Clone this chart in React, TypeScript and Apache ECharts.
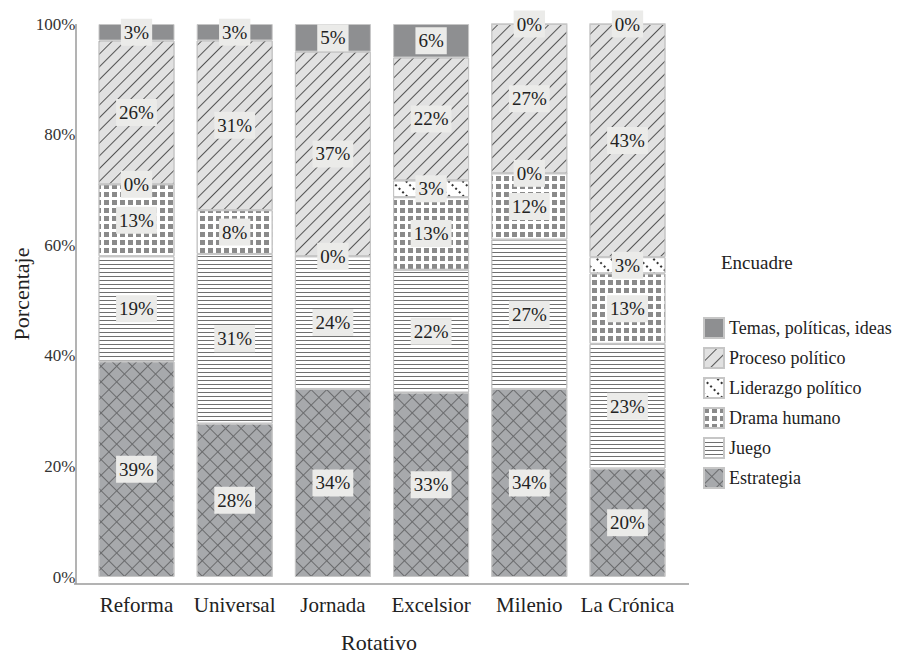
import React, { useEffect, useRef } from "react";
import * as echarts from "echarts";

const categories = ["Reforma", "Universal", "Jornada", "Excelsior", "Milenio", "La Crónica"];
const estrategia = [39, 28, 34, 33, 34, 20];
const juego = [19, 31, 24, 22, 27, 23];
const dramaHumano = [13, 8, 0, 13, 12, 13];
const liderazgo: (number | null)[] = [0, null, null, 3, 0, 3];
const procesoPolitico = [26, 31, 37, 22, 27, 43];
const temas = [3, 3, 5, 6, 0, 0];
const seriesNames = [
  "Estrategia",
  "Juego",
  "Drama humano",
  "Liderazgo político",
  "Proceso político",
  "Temas, políticas, ideas",
];
const legendOrder = [
  "Temas, políticas, ideas",
  "Proceso político",
  "Liderazgo político",
  "Drama humano",
  "Juego",
  "Estrategia",
];

const FONT = "Liberation Serif";

export default function App() {
  const ref = useRef<HTMLDivElement>(null);
  useEffect(() => {
    if (!ref.current) return;
    const chart = echarts.init(ref.current, undefined, { renderer: "svg" });
    const raw = [estrategia, juego, dramaHumano, liderazgo, procesoPolitico, temas];
    const totals = categories.map((_, i) =>
      raw.reduce((s, arr) => s + (arr[i] == null ? 0 : (arr[i] as number)), 0)
    );
    const styles: any[] = [
      {
        color: "#a7a9ac",
        decal: {
          symbol: "rect",
          symbolSize: 1,
          color: "#6a6b6d",
          dashArrayX: [[11, 0], [1, 10]],
          dashArrayY: [1, 0, 10, 0],
          rotation: Math.PI / 4,
        },
      },
      {
        color: "#ffffff",
        decal: {
          symbol: "rect",
          symbolSize: 1,
          color: "#707070",
          dashArrayX: [[8, 0]],
          dashArrayY: [1, 3],
          rotation: 0,
        },
      },
      {
        color: "#ffffff",
        decal: {
          symbol: "rect",
          symbolSize: 1,
          color: "#8a8a8a",
          dashArrayX: [[5, 3]],
          dashArrayY: [5, 3],
          rotation: 0,
        },
      },
      {
        color: "#ffffff",
        decal: {
          symbol: "rect",
          symbolSize: 1,
          color: "#333333",
          dashArrayX: [[2, 3]],
          dashArrayY: [2, 8],
          rotation: Math.PI / 4,
        },
      },
      {
        color: "#e1e1e1",
        decal: {
          symbol: "rect",
          symbolSize: 1,
          color: "#555555",
          dashArrayX: [[8, 0]],
          dashArrayY: [1, 8],
          rotation: -Math.PI / 4,
        },
      },
      { color: "#8e8f91" },
    ];

    const series = raw.map((arr, si) => ({
      name: seriesNames[si],
      type: "bar",
      stack: "total",
      barWidth: 76,
      data: arr.map((v, i) => (v == null ? null : (v / totals[i]) * 100)),
      itemStyle: { ...styles[si], borderColor: "#c6c6c6", borderWidth: 1 },
      label: {
        show: true,
        position: "inside",
        formatter: (p: any) => `${raw[p.seriesIndex][p.dataIndex]}%`,
        color: "#222",
        fontFamily: FONT,
        fontSize: 19,
        lineHeight: 20,
        backgroundColor: "#ebebe9",
        padding: [4, 3, 3, 3],
      },
      emphasis: { disabled: true },
    }));

    chart.setOption({
      animation: false,
      textStyle: { fontFamily: FONT },
      grid: { left: 87.4, right: 902 - 676.6, top: 24, bottom: 77, containLabel: false },
      xAxis: {
        type: "category",
        data: categories,
        axisLine: { show: false },
        axisTick: { show: false },
        axisLabel: { interval: 0, color: "#222", fontFamily: FONT, fontSize: 21, margin: 17 },
      },
      yAxis: {
        type: "value",
        min: 0,
        max: 100,
        interval: 20,
        axisLine: { show: false },
        axisTick: { show: false },
        splitLine: { show: false },
        axisLabel: { formatter: "{value}%", color: "#333", fontFamily: FONT, fontSize: 17, margin: 12 },
      },
      legend: {
        orient: "vertical",
        left: 698,
        top: 312,
        itemWidth: 20,
        itemHeight: 20,
        itemGap: 8,
        icon: "rect",
        data: legendOrder,
        selectedMode: false,
        textStyle: { color: "#222", fontFamily: FONT, fontSize: 18 },
      },
      graphic: [
        {
          type: "line",
          shape: { x1: 76, y1: 24, x2: 76, y2: 584 },
          style: { stroke: "#9a9a9a", lineWidth: 1.5 },
          silent: true,
        },
        {
          type: "line",
          shape: { x1: 74, y1: 584, x2: 689, y2: 584 },
          style: { stroke: "#9a9a9a", lineWidth: 1.5 },
          silent: true,
        },
        {
          type: "text",
          x: 721,
          y: 262,
          style: { text: "Encuadre", fill: "#222", fontSize: 19, fontFamily: FONT, verticalAlign: "middle", align: "left" },
        },
        {
          type: "text",
          x: 379,
          y: 642,
          style: { text: "Rotativo", fill: "#222", fontSize: 22, fontFamily: FONT, verticalAlign: "middle", align: "center" },
        },
        {
          type: "text",
          x: 21,
          y: 294,
          rotation: Math.PI / 2,
          style: { text: "Porcentaje", fill: "#222", fontSize: 22, fontFamily: FONT, verticalAlign: "middle", align: "center" },
        },
      ],
      series,
    });
    return () => chart.dispose();
  }, []);
  return (
    <div
      ref={ref}
      style={{ position: "fixed", left: 0, top: 0, width: 902, height: 654, background: "#fff" }}
    />
  );
}
